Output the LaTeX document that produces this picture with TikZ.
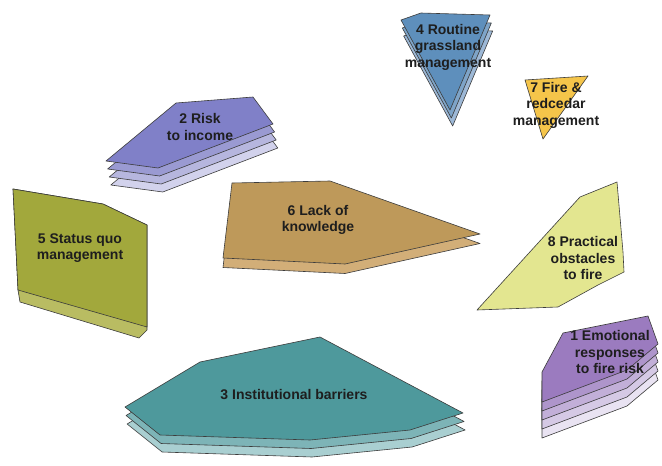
\documentclass[tikz,border=0pt]{standalone}
\usepackage{fontspec}
\setmainfont{Liberation Sans}
\definecolor{outl}{HTML}{3C3C3C}
\definecolor{txt}{HTML}{1E1E1E}
\definecolor{blueA}{HTML}{5E8FBC}
\definecolor{blueB}{HTML}{7EA4C8}
\definecolor{blueC}{HTML}{9DB8D6}
\definecolor{yelA}{HTML}{F5C54A}
\definecolor{purA}{HTML}{8080C8}
\definecolor{purB}{HTML}{9A9AD2}
\definecolor{purC}{HTML}{B6B6DE}
\definecolor{purD}{HTML}{D2D2EC}
\definecolor{oliA}{HTML}{A2A83C}
\definecolor{oliB}{HTML}{B9BC62}
\definecolor{tanA}{HTML}{BE995A}
\definecolor{tanB}{HTML}{D2AE78}
\definecolor{limA}{HTML}{E3E690}
\definecolor{vioA}{HTML}{9B7BBF}
\definecolor{vioB}{HTML}{AE95CB}
\definecolor{vioC}{HTML}{C2AFD8}
\definecolor{vioD}{HTML}{D5C9E5}
\definecolor{vioE}{HTML}{E9E3F2}
\definecolor{tealA}{HTML}{4E999C}
\definecolor{tealB}{HTML}{7DB4B7}
\definecolor{tealC}{HTML}{A9CFD1}
\begin{document}
\begin{tikzpicture}[x=1pt,y=-1pt,
  shp/.style={draw=outl, line width=0.6pt, line join=round},
  lbl/.style={font=\bfseries\fontsize{14}{16.5}\selectfont, align=center, text=txt, inner sep=0pt}]
\useasboundingbox[fill=white] (0,0) rectangle (662,466);

% 4 Routine grassland management
\foreach \c/\d in {blueC/16,blueB/8,blueA/0}
  \draw[shp, fill=\c, shift={(\d/6,\d)}] (401,20) -- (421,13) -- (490,15) -- (450,110) -- cycle;
\node[lbl] (n4) at (448,47) {4 Routine\\grassland\\management};

% 7 Fire & redcedar management
\draw[shp, fill=yelA] (525,80) -- (588,76) -- (543,139) -- cycle;
\node[lbl] (n7) at (556,105) {7 Fire \&\\redcedar\\management};

% 2 Risk to income
\foreach \c/\d in {purD/24,purC/16,purB/8,purA/0}
  \draw[shp, fill=\c, shift={(\d/5,\d)}] (106,161) -- (176,103) -- (253,97) -- (273,124) -- (158,168) -- cycle;
\node[lbl] (n2) at (200,127) {2 Risk\\to income};

% 5 Status quo management
\draw[shp, fill=oliB] (13,189) -- (103,204) -- (147,225) -- (147,330) -- (139,338) -- (20,302) -- (18,290) -- cycle;
\draw[shp, fill=oliA] (13,189) -- (103,204) -- (147,225) -- (147,327) -- (18,290) -- cycle;
\node[lbl] (n5) at (80,248) {5 Status quo\\management};

% 6 Lack of knowledge
\foreach \c/\d in {tanB/9.5,tanA/0}
  \draw[shp, fill=\c, shift={(0,\d)}] (232,183) -- (330,181) -- (480,234) -- (345,264) -- (223,258) -- cycle;
\node[lbl] (n6) at (318,220) {6 Lack of\\knowledge};

% 8 Practical obstacles to fire
\draw[shp, fill=limA] (617,182) -- (580,197) -- (477,310) -- (558,307) -- (598,285) -- (624,272) -- (623,252) -- cycle;
\node[lbl] (n8) at (583,258) {8 Practical\\obstacles\\to fire};

% 1 Emotional responses to fire risk
\foreach \c/\d in {vioE/36,vioD/27,vioC/18,vioB/9,vioA/0}
  \draw[shp, fill=\c, shift={(0,\d)}] (542,372) -- (563,333) -- (648,316) -- (658,344) -- (627,370) -- (542,402) -- cycle;
\node[lbl] (n1) at (610,352) {1 Emotional\\responses\\to fire risk};

% 3 Institutional barriers
\foreach \c/\d in {tealC/17,tealB/8.5,tealA/0}
  \draw[shp, fill=\c, shift={(\d/8,\d)}] (125,407) -- (200,362) -- (320,337) -- (463,413) -- (410,430) -- (310,440) -- (160,435) -- cycle;
\node[lbl] (n3) at (294,395) {3 Institutional barriers};
\end{tikzpicture}
\end{document}
